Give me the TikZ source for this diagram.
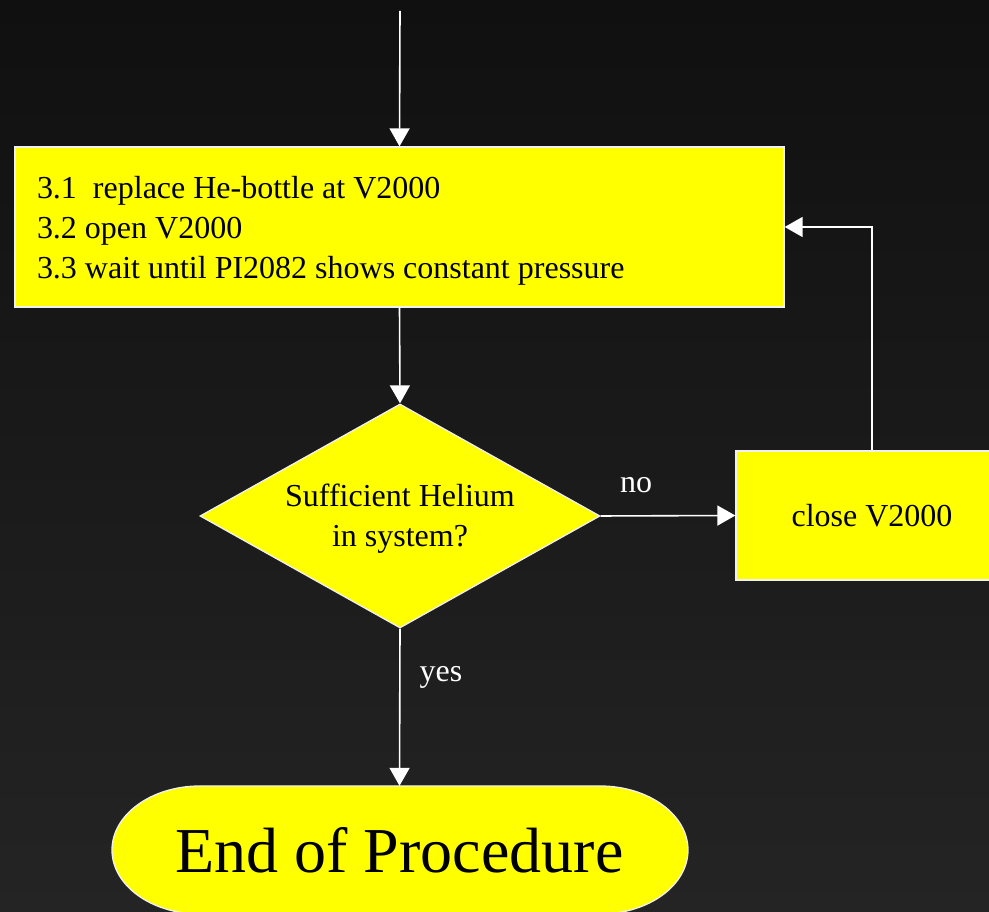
\documentclass[tikz,border=0pt]{standalone}
\usepackage{fontspec}
\setmainfont{Liberation Serif}
\usetikzlibrary{arrows.meta,shapes.geometric}
\definecolor{ylw}{HTML}{FFFF00}
\definecolor{bgtop}{HTML}{101010}
\definecolor{bgbot}{HTML}{242424}
\definecolor{edge}{HTML}{F0F0F0}
\begin{document}
\begin{tikzpicture}[x=1pt,y=1pt,
  conn/.style={draw=white,line width=1.6pt,-{Triangle[length=18pt,width=20pt]}},
  ybox/.style={draw=edge,line width=1.3pt,fill=ylw,text=black},
  body/.style={font=\fontsize{32}{40}\selectfont},
  lbl/.style={text=white,font=\fontsize{32}{38}\selectfont,inner sep=0pt}]
\useasboundingbox (0,0) rectangle (989,912);
\shade[top color=bgtop,bottom color=bgbot] (0,0) rectangle (989,912);
\clip (0,0) rectangle (989,912);

\coordinate (start) at (400,901);
\node[ybox,rectangle,minimum width=769pt,minimum height=160pt,inner sep=0pt] (steps) at (399.5,685) {};
\node[body,text=black,text width=725pt,inner sep=0pt,align=left] (stepstext) at (399.5,681)
  {\spaceskip=8pt\relax 3.1\hspace{16pt}replace He-bottle at V2000\\3.2 open V2000\\3.3 wait until PI2082 shows constant pressure};

\node[ybox,diamond,minimum width=400pt,minimum height=224pt,inner sep=0pt,aspect=1.786] (dec) at (400,396) {};
\node[body,text=black,inner sep=0pt,align=center] (dectext) at (400,393) {Sufficient Helium\\in system?};

\node[ybox,body,rectangle,minimum width=272pt,minimum height=129pt,inner sep=0pt] (close)
  at (872,396.5) {close V2000};

\filldraw[ybox] (200,126) -- (600,126)
  arc[start angle=90,end angle=-90,x radius=88,y radius=64] -- (200,-2)
  arc[start angle=270,end angle=90,x radius=88,y radius=64] -- cycle;
\node[inner sep=0pt,minimum width=577pt,minimum height=128pt,text=black,
      font=\fontsize{64}{70}\selectfont] (end) at (399.5,62) {End of Procedure};

\draw[conn] (start) -- (steps.north);
\draw[conn] (steps.south) -- (dec.north);
\draw[conn] (dec.east) -- (close.west);
\node[lbl] (nolbl) at (636,427) {no};
\draw[conn] (dec.south) -- (end.north);
\node[lbl] (yeslbl) at (441,235) {yes};
\draw[conn] (close.north) |- (steps.east);
\end{tikzpicture}
\end{document}
